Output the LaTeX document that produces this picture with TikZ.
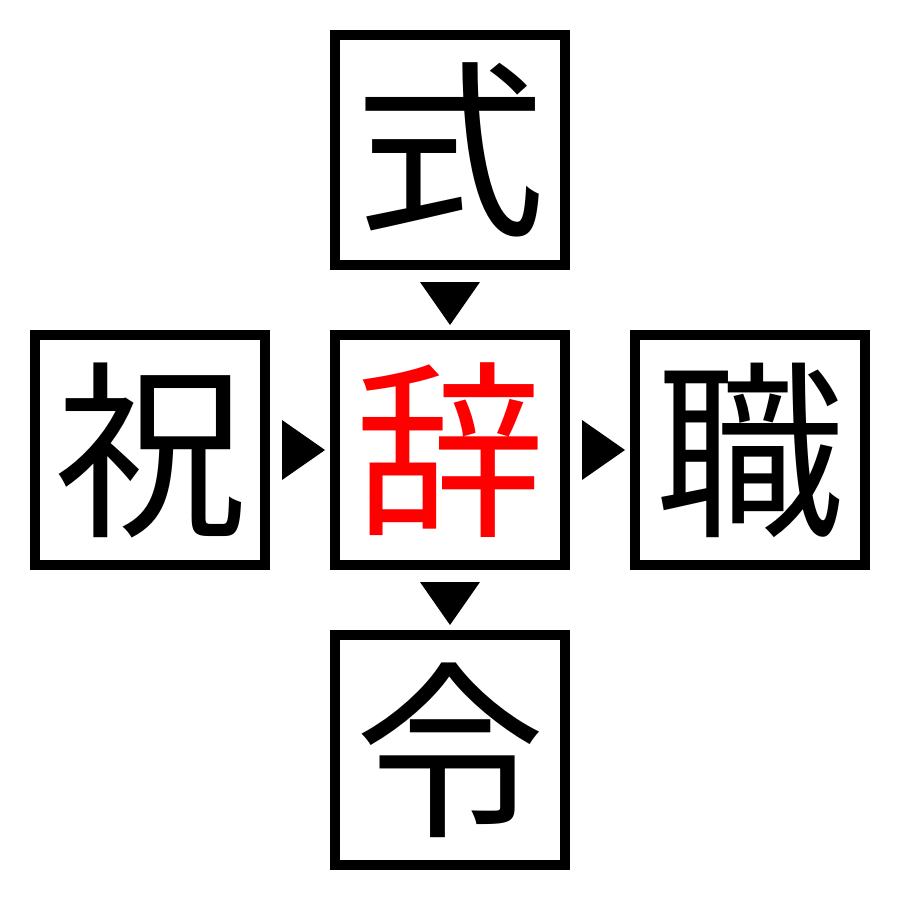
\documentclass[tikz,border=0pt]{standalone}
\usepackage{fontspec}
\newfontfamily\cjk{Noto Sans CJK JP}
\usetikzlibrary{calc}
\tikzset{
  x=1pt,y=-1pt,
  charbox/.style={draw=black,line width=10pt,minimum size=230pt,inner sep=0pt,outer sep=0pt,
    font=\cjk\fontsize{190}{190}\selectfont},
  arrowtri/.style={fill=black,draw=none}
}
\begin{document}
\begin{tikzpicture}
\useasboundingbox (0,0) rectangle (900,900);
\node[charbox] (top) at (450,150) {式};
\node[charbox,text=red] (mid) at (450,450) {辞};
\node[charbox] (left) at (150,450) {祝};
\node[charbox] (right) at (750,450) {職};
\node[charbox] (bot) at (450,750) {令};
% down triangles
\fill[arrowtri] ($(top.south)+(-30,17)$) -- ($(top.south)+(30,17)$) -- ($(mid.north)+(0,-10)$) -- cycle;
\fill[arrowtri] ($(mid.south)+(-30,17)$) -- ($(mid.south)+(30,17)$) -- ($(bot.north)+(0,-10)$) -- cycle;
% right triangles
\fill[arrowtri] ($(left.east)+(17,-30)$) -- ($(left.east)+(17,30)$) -- ($(mid.west)+(-10,0)$) -- cycle;
\fill[arrowtri] ($(mid.east)+(17,-30)$) -- ($(mid.east)+(17,30)$) -- ($(right.west)+(-10,0)$) -- cycle;
\end{tikzpicture}
\end{document}
